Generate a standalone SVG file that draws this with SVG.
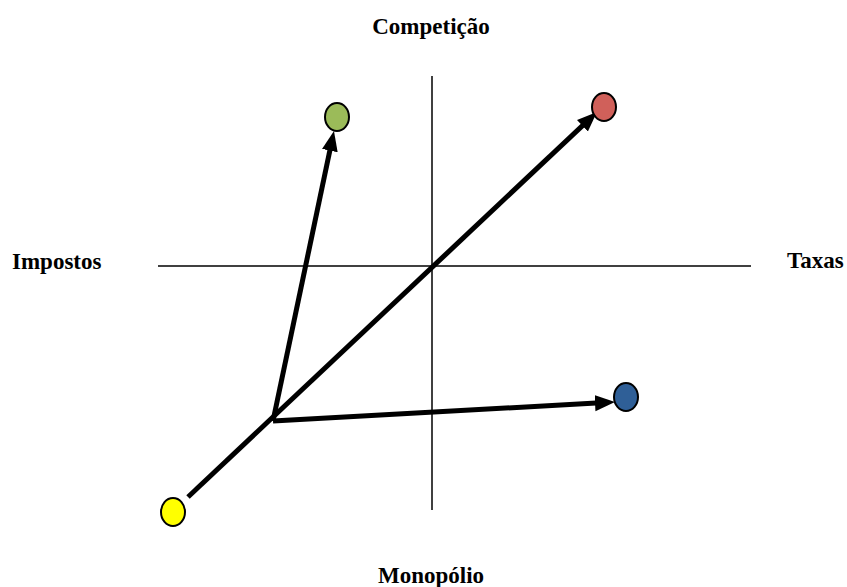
<svg xmlns="http://www.w3.org/2000/svg" width="847" height="587" viewBox="0 0 847 587">
<style>
.lbl{font-family:"Liberation Serif","Times New Roman",serif;font-weight:bold;font-size:23px;fill:#000}
.axis{stroke:#000;stroke-width:1.5;fill:none}
.arr{stroke:#000;stroke-width:5;fill:none}
.node{stroke:#000;stroke-width:2}
</style>
<defs>
<marker id="ah" markerUnits="userSpaceOnUse" markerWidth="22" markerHeight="18" refX="10" refY="8" orient="auto">
<path d="M0,0 L20,8 L0,16 z" fill="#000"/>
</marker>
</defs>
<g id="axes">
<line class="axis" x1="432" y1="76" x2="432" y2="510"/>
<line class="axis" x1="158" y1="266" x2="751" y2="266"/>
</g>
<g id="connectors">
<line class="arr" x1="188" y1="497" x2="589.7" y2="118.9" marker-end="url(#ah)"/>
<line class="arr" x1="273" y1="421" x2="331.9" y2="140.8" marker-end="url(#ah)"/>
<line class="arr" x1="273" y1="421" x2="605" y2="402.6" marker-end="url(#ah)"/>
</g>
<g id="node-green"><ellipse class="node" cx="337" cy="117" rx="12" ry="14" fill="#9BBB59"/></g>
<g id="node-red"><ellipse class="node" cx="604" cy="107" rx="12" ry="14" fill="#D0605A"/></g>
<g id="node-blue"><ellipse class="node" cx="626" cy="397" rx="12" ry="14" fill="#2F5F97"/></g>
<g id="node-yellow"><ellipse class="node" cx="173" cy="512" rx="12" ry="14" fill="#FFFF00"/></g>
<text class="lbl" x="431" y="34" text-anchor="middle">Competição</text>
<text class="lbl" x="12" y="269">Impostos</text>
<text class="lbl" x="787" y="268">Taxas</text>
<text class="lbl" x="431" y="583" text-anchor="middle">Monopólio</text>
</svg>
